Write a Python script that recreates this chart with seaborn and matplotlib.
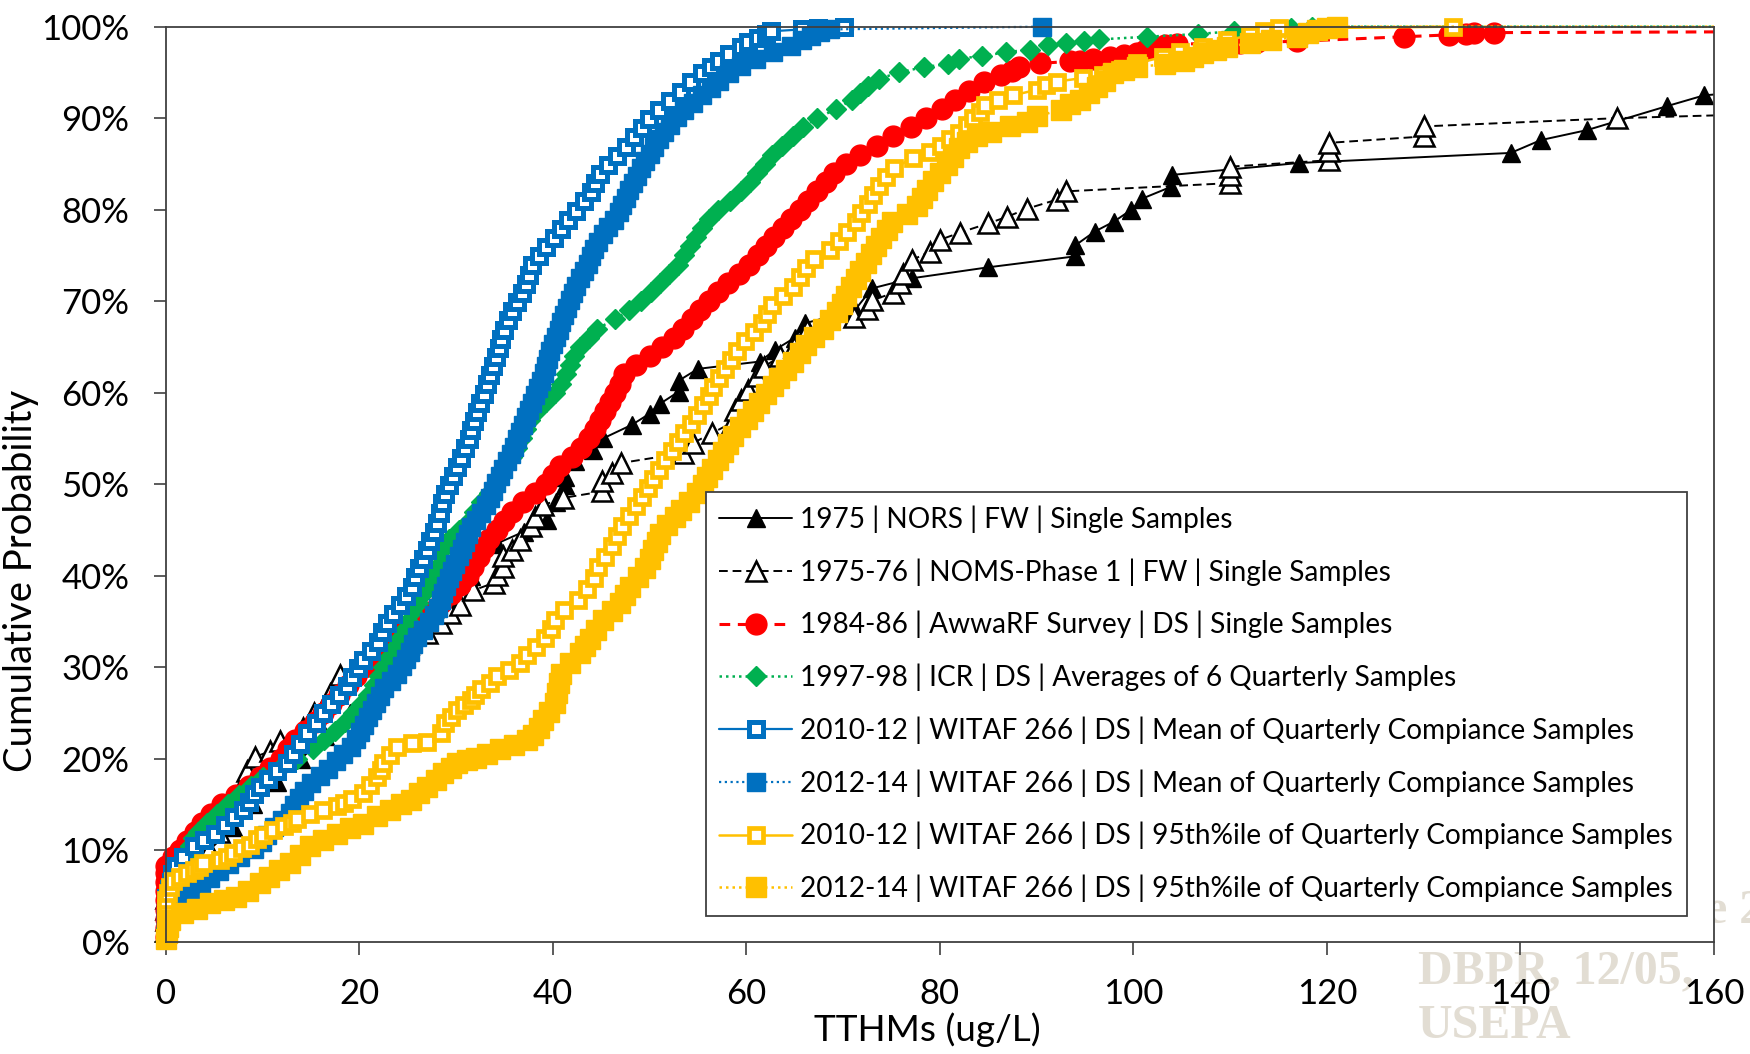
import matplotlib
matplotlib.use("Agg")
import matplotlib.pyplot as plt
import numpy as np
import pandas as pd
import seaborn as sns
from matplotlib.transforms import Bbox, TransformedBbox
from matplotlib.ticker import FuncFormatter

# Cumulative distributions of TTHM concentrations: (TTHM ug/L, cumulative %)
nors_1975 = [(0, 1.2), (0, 2.5), (0, 3.7), (0, 5.0), (2.5, 7.5), (4.5, 10.0), (7.0, 12.5), (9.0, 15.0),
             (11.5, 17.5), (14.0, 20.0), (16.5, 22.5), (19.0, 25.0), (21.5, 27.5), (23.5, 30.0),
             (25.5, 32.5), (27.5, 35.0), (29.5, 37.5), (31.5, 40.0), (34.2, 43.5), (37.0, 44.8),
             (39.4, 46.1), (40.3, 48.0), (41.3, 49.9), (41.3, 50.8), (42.3, 52.5), (44.2, 53.7),
             (45.2, 55.0), (48.2, 56.5), (50.0, 57.7), (51.1, 58.8), (53.0, 60.1), (53.0, 61.3),
             (55.0, 62.6), (61.4, 63.4), (63.0, 64.7), (65.0, 66.0), (66.1, 67.6), (71.2, 69.0),
             (73.0, 71.4), (77.1, 72.5), (85.0, 73.7), (94.0, 74.9), (94.0, 76.1), (96.0, 77.6),
             (98.0, 78.7), (99.8, 80.0), (100.9, 81.2), (103.9, 82.5), (104.0, 83.8), (117.1, 85.1),
             (139.0, 86.2), (142.1, 87.6), (146.9, 88.7), (155.1, 91.3), (159.0, 92.5), (175.0, 93.8)]

noms_1975_76 = [(0, 1.2), (0, 2.4), (0, 3.6), (0, 4.8), (1.5, 6.2), (3.0, 8.0), (4.5, 10.0), (5.5, 12.0),
                (6.5, 13.8), (7.2, 15.2), (7.7, 16.6), (8.4, 18.6), (9.2, 20.2), (10.8, 20.8), (11.8, 21.9),
                (14.2, 23.3), (15.3, 25.0), (17.0, 27.1), (18.0, 29.1), (20.1, 30.2), (22.5, 31.3),
                (25.0, 32.5), (27.0, 33.7), (28.4, 34.8), (29.4, 35.9), (30.4, 36.8), (31.8, 38.4),
                (33.9, 39.2), (34.2, 40.1), (34.9, 41.0), (34.9, 42.1), (35.8, 42.8), (36.6, 43.9),
                (37.7, 45.4), (38.2, 46.4), (39.0, 47.7), (41.1, 48.5), (45.1, 49.2), (45.1, 50.3),
                (46.1, 51.2), (47.0, 52.3), (53.5, 53.4), (54.5, 54.5), (56.5, 55.6), (58.5, 56.7),
                (58.8, 58.1), (59.5, 59.2), (60.2, 60.3), (61.1, 61.8), (61.8, 62.8), (63.5, 64.0),
                (64.9, 65.0), (66.3, 66.9), (71.1, 68.3), (72.5, 69.1), (73.0, 70.1), (75.2, 70.9),
                (75.9, 72.0), (76.2, 73.0), (77.1, 74.5), (79.0, 75.4), (80.0, 76.7), (82.1, 77.5),
                (85.0, 78.5), (86.9, 79.2), (89.0, 80.1), (92.1, 81.1), (93.0, 82.0), (110.0, 82.9),
                (110.0, 83.8), (110.0, 84.7), (120.2, 85.4), (120.2, 86.4), (120.2, 87.3), (130.0, 88.0),
                (130.0, 89.1), (150.0, 90.0), (200.0, 91.5)]

awwarf_1984_86 = [(0, 0.5), (0, 1.5), (0, 2.5), (0, 3.5), (0, 4.5), (0, 5.5), (0, 6.5), (0, 7.5), (0, 8.3),
                  (0.8, 9.2), (1.5, 10), (2.2, 11), (3.0, 12), (3.8, 13), (4.7, 14), (5.8, 15), (7.3, 16),
                  (8.6, 17), (9.7, 18), (10.8, 19), (11.9, 20), (12.6, 21), (13.4, 22), (14.4, 23),
                  (15.4, 24), (16.3, 25), (17.1, 26), (17.9, 27), (18.8, 28), (19.7, 29), (20.5, 30),
                  (21.3, 31), (22.1, 32), (23.4, 33), (24.6, 34), (25.9, 35), (27.2, 36), (28.4, 37),
                  (29.5, 38), (30.4, 39), (31.2, 40), (31.8, 41), (32.4, 42), (32.9, 43), (33.4, 44),
                  (34.2, 45), (35.0, 46), (35.8, 47), (36.9, 48), (38.2, 49), (39.3, 50), (40.0, 51),
                  (40.7, 52), (42.0, 53), (42.9, 54), (43.7, 55), (44.4, 56), (44.9, 57), (45.4, 58),
                  (45.9, 59), (46.4, 60), (46.9, 61), (47.4, 62), (48.6, 63), (50.0, 64), (51.3, 65),
                  (52.5, 66), (53.5, 67), (54.4, 68), (55.2, 69), (56.1, 70), (57.1, 71), (58.1, 72),
                  (59.2, 73), (60.3, 74), (61.2, 75), (62.0, 76), (62.9, 77), (63.8, 78), (64.6, 79),
                  (65.5, 80), (66.4, 81), (67.3, 82), (68.2, 83), (69.1, 84), (70.3, 85), (71.8, 86),
                  (73.5, 87), (75.2, 88), (77.0, 89), (78.6, 90), (80.2, 91), (81.6, 92), (83.0, 93),
                  (84.6, 94), (86.3, 94.7), (87.5, 95.2), (88.2, 95.6), (90.4, 96.0), (93.5, 96.2),
                  (94.5, 96.3), (95.8, 96.5), (97.6, 96.7), (99.0, 96.9), (100.4, 97.1), (101.2, 97.4),
                  (102.3, 97.7), (103.3, 98.0), (104.5, 98.1), (111.0, 98.2), (112.8, 98.3), (116.9, 98.4),
                  (128.0, 98.9), (132.6, 99.1), (134.4, 99.15), (135.2, 99.3), (137.3, 99.35), (210.0, 99.6)]

icr_1997_98 = [(0, 0.5), (0, 1.5), (0.2, 2.5), (0.4, 3.5), (0.7, 4.5), (1.0, 5.5), (1.3, 6.5), (1.6, 7.5),
               (1.9, 8.5), (2.2, 9.5), (2.5, 10.5), (2.8, 11.3), (3.3, 12), (4.3, 13), (5.3, 14), (6.4, 15),
               (7.6, 16), (8.8, 17), (10.1, 18), (11.8, 19), (13.6, 20), (15.2, 21), (16.4, 22), (17.5, 23),
               (18.5, 24), (19.4, 25), (20.2, 26), (20.9, 27), (21.5, 28), (22.0, 29), (22.5, 30), (23.0, 31),
               (23.5, 32), (24.0, 33), (24.5, 34), (25.0, 35), (25.5, 36), (26.1, 37), (26.6, 38), (27.1, 39),
               (27.6, 40), (28.0, 41), (28.4, 42), (28.8, 43), (29.3, 44), (30.3, 45), (31.3, 46), (31.9, 47),
               (32.6, 48), (33.4, 49), (34.0, 50), (34.6, 51), (35.2, 52), (35.8, 53), (36.3, 54), (36.8, 55),
               (37.2, 56), (37.6, 57), (38.4, 58), (39.3, 59), (40.2, 60), (40.9, 61), (41.4, 62), (41.8, 63),
               (42.2, 64), (42.8, 65), (43.7, 66), (44.6, 67), (46.4, 68), (47.9, 69), (49.1, 70), (50.2, 71),
               (51.1, 72), (52.0, 73), (52.9, 74), (53.6, 75), (54.2, 76), (54.8, 77), (55.4, 78), (56.1, 79),
               (57.1, 80), (58.3, 81), (59.5, 82), (60.4, 83), (61.1, 84), (61.9, 85), (62.7, 86), (63.7, 87),
               (64.8, 88), (65.9, 89), (67.3, 90), (69.3, 91), (70.9, 92), (71.8, 92.7), (72.6, 93.5),
               (73.7, 94.3), (75.8, 95.0), (78.4, 95.6), (80.8, 95.9), (82.0, 96.5), (84.4, 96.8),
               (86.8, 97.2), (89.3, 97.5), (91.2, 98.0), (93.0, 98.2), (94.9, 98.4), (96.4, 98.6),
               (101.4, 98.9), (106.7, 99.2), (110.4, 99.5), (116.3, 99.8), (118.5, 100), (240.0, 100)]

witaf_mean_2010_12 = [(0, 0.8), (0, 1.8), (0, 2.8), (0, 3.8), (0, 4.8), (0.3, 5.7), (0.5, 6.5), (0.7, 7.4),
                      (1.1, 8.3), (1.8, 9.3), (2.9, 10.4), (4.0, 11.1), (5.1, 11.8), (6.1, 12.7), (7.1, 13.6),
                      (8.0, 14.4), (8.6, 15.3), (9.1, 16.1), (9.7, 16.9), (10.6, 17.8), (11.5, 18.6),
                      (12.5, 19.5), (13.2, 20.5), (13.9, 21.6), (14.6, 22.8), (15.5, 23.9), (16.3, 25.0),
                      (17.1, 26.0), (17.9, 27.0), (18.7, 27.9), (19.3, 28.9), (19.9, 29.9), (20.4, 30.8),
                      (21.2, 31.8), (21.9, 32.8), (22.4, 33.8), (22.9, 34.8), (23.5, 35.8), (24.2, 36.8),
                      (24.8, 37.8), (25.4, 38.8), (25.8, 39.8), (26.2, 40.8), (26.6, 41.8), (27.0, 42.8),
                      (27.3, 43.8), (27.7, 44.8), (28.0, 45.8), (28.3, 46.8), (28.5, 47.9), (28.9, 48.9),
                      (29.3, 49.9), (29.7, 50.9), (30.1, 51.9), (30.5, 52.9), (30.9, 53.9), (31.3, 54.9),
                      (31.6, 55.9), (31.9, 56.9), (32.2, 57.9), (32.5, 58.9), (32.9, 59.9), (33.2, 60.9),
                      (33.5, 61.9), (33.8, 62.9), (34.1, 63.9), (34.4, 64.9), (34.7, 65.9), (35.0, 66.9),
                      (35.4, 67.9), (35.8, 68.9), (36.3, 69.9), (36.8, 70.9), (37.2, 71.9), (37.5, 72.9),
                      (37.9, 73.9), (38.6, 74.9), (39.3, 75.9), (40.1, 76.9), (40.9, 77.9), (41.6, 78.9),
                      (42.4, 79.9), (43.2, 80.9), (43.9, 81.9), (44.4, 82.9), (44.9, 83.9), (45.7, 84.9),
                      (46.6, 85.9), (47.6, 86.9), (48.4, 87.9), (49.2, 88.9), (49.9, 89.9), (51.0, 90.9),
                      (52.1, 91.9), (53.2, 92.9), (54.3, 93.9), (55.4, 94.9), (56.3, 95.6), (57.2, 96.3),
                      (58.2, 97.0), (59.4, 97.8), (60.2, 98.3), (61.2, 98.8), (62.0, 99.2), (62.6, 99.5),
                      (65.8, 99.7), (67.4, 99.85), (70.1, 100)]

witaf_mean_2012_14 = [(0, 0.5), (0, 1.2), (0, 1.9), (0, 2.6), (0, 3.3), (1.1, 3.8), (1.6, 4.6), (2.6, 5.4),
                      (3.6, 6.2), (4.6, 7.0), (5.5, 7.7), (6.5, 8.5), (7.7, 9.3), (9.1, 10.1), (10.0, 10.9),
                      (10.5, 11.7), (11.2, 12.5), (12.0, 13.3), (12.8, 14.1), (13.3, 14.9), (13.8, 15.7),
                      (14.3, 16.5), (15.0, 17.3), (15.9, 18.1), (16.8, 18.9), (17.6, 19.7), (18.3, 20.5),
                      (19.1, 21.3), (19.7, 22.1), (20.1, 22.9), (20.5, 23.7), (20.9, 24.5), (21.3, 25.3),
                      (21.7, 26.1), (22.1, 26.9), (22.6, 27.7), (23.3, 28.5), (23.9, 29.3), (24.4, 30.1),
                      (24.8, 30.9), (25.2, 31.7), (25.6, 32.5), (26.0, 33.3), (26.6, 34.1), (27.2, 34.9),
                      (27.7, 35.7), (28.1, 36.5), (28.4, 37.3), (28.7, 38.1), (29.0, 38.9), (29.3, 39.7),
                      (29.6, 40.5), (29.9, 41.3), (30.3, 42.1), (30.6, 42.9), (30.9, 43.7), (31.2, 44.5),
                      (31.6, 45.3), (32.1, 46.1), (32.6, 46.9), (33.1, 47.7), (33.5, 48.5), (33.8, 49.3),
                      (34.1, 50.1), (34.5, 50.9), (34.9, 51.7), (35.3, 52.5), (35.7, 53.3), (36.0, 54.1),
                      (36.3, 54.9), (36.6, 55.7), (36.9, 56.5), (37.2, 57.3), (37.5, 58.1), (37.9, 58.9),
                      (38.2, 59.7), (38.5, 60.5), (38.8, 61.3), (39.1, 62.1), (39.3, 62.9), (39.5, 63.7),
                      (39.7, 64.5), (40.0, 65.3), (40.3, 66.1), (40.6, 66.9), (40.9, 67.7), (41.2, 68.5),
                      (41.5, 69.3), (41.8, 70.1), (42.1, 70.9), (42.4, 71.7), (42.8, 72.5), (43.2, 73.3),
                      (43.6, 74.1), (43.9, 74.9), (44.3, 75.7), (44.7, 76.5), (45.2, 77.3), (45.7, 78.1),
                      (46.3, 78.9), (46.8, 79.7), (47.2, 80.5), (47.6, 81.3), (47.9, 82.1), (48.3, 82.9),
                      (48.7, 83.7), (49.1, 84.5), (49.5, 85.3), (50.0, 86.1), (50.5, 86.9), (51.0, 87.7),
                      (51.5, 88.5), (52.1, 89.3), (52.8, 90.1), (53.6, 90.9), (54.5, 91.7), (55.4, 92.5),
                      (56.3, 93.3), (57.2, 94.1), (58.2, 94.9), (59.4, 95.7), (61.0, 96.5), (62.8, 97.2),
                      (64.6, 97.9), (65.8, 98.5), (66.7, 99.0), (67.6, 99.4), (68.6, 99.7), (90.6, 100)]

witaf_p95_2010_12 = [(0, 0.5), (0, 1.3), (0, 2.1), (0, 2.9), (0, 3.7), (0, 4.5), (0.2, 5.3), (0.4, 6.0),
                     (0.8, 6.6), (1.5, 7.1), (2.2, 7.5), (2.9, 7.8), (3.4, 8.2), (3.9, 8.6), (5.6, 8.9),
                     (6.3, 9.3), (7.0, 9.7), (7.9, 10.2), (8.7, 10.6), (9.4, 11.2), (10.1, 11.7), (11.1, 12.2),
                     (12.2, 12.6), (13.0, 13.0), (13.6, 13.4), (14.9, 14.0), (16.3, 14.4), (17.7, 14.8),
                     (18.4, 15.2), (19.2, 15.6), (20.4, 16.2), (21.1, 17.1), (21.8, 18.0), (22.2, 18.8),
                     (22.5, 19.5), (23.2, 20.4), (23.9, 21.3), (25.5, 21.7), (27.0, 21.8), (28.4, 22.8),
                     (28.9, 23.9), (29.5, 24.6), (30.1, 25.3), (30.8, 25.9), (31.5, 26.4), (32.0, 27.0),
                     (32.6, 27.6), (33.5, 28.3), (34.2, 29.0), (35.5, 29.7), (36.6, 30.5), (37.3, 31.3),
                     (38.3, 32.2), (39.2, 33.2), (39.8, 34.2), (40.2, 35.2), (41.2, 36.2), (42.6, 37.3),
                     (43.5, 38.5), (44.3, 39.7), (44.7, 40.9), (45.4, 42.0), (46.1, 43.2), (46.6, 44.3),
                     (47.2, 45.4), (47.9, 46.5), (48.6, 47.6), (49.2, 48.6), (49.8, 49.6), (50.4, 50.6),
                     (51.0, 51.6), (51.6, 52.6), (52.3, 53.6), (52.9, 54.6), (53.6, 55.6), (54.3, 56.6),
                     (54.9, 57.6), (55.5, 58.6), (56.1, 59.6), (56.6, 60.6), (57.2, 61.6), (57.8, 62.6),
                     (58.4, 63.6), (59.0, 64.6), (59.9, 65.6), (60.8, 66.6), (61.6, 67.6), (62.1, 68.6),
                     (62.7, 69.6), (63.8, 70.6), (64.8, 71.6), (65.6, 72.6), (66.2, 73.6), (67.0, 74.6),
                     (68.6, 75.6), (69.6, 76.6), (70.4, 77.6), (71.3, 78.6), (71.9, 79.6), (72.6, 80.6),
                     (73.1, 81.6), (73.7, 82.6), (74.4, 83.6), (75.3, 84.6), (77.2, 85.6), (79.0, 86.3),
                     (80.1, 87.0), (81.1, 87.7), (82.0, 88.4), (82.8, 89.2), (83.4, 90.0), (84.1, 90.7),
                     (84.7, 91.4), (86.0, 92.0), (87.6, 92.5), (90.0, 93.1), (91.0, 93.6), (92.1, 94.0),
                     (94.8, 94.4), (96.9, 94.7), (98.6, 95.3), (100.4, 96.0), (103.1, 96.7), (104.8, 97.2),
                     (107.2, 97.8), (109.7, 98.5), (112.1, 99.1), (113.5, 99.5), (115.0, 99.8), (133.0, 100)]

witaf_p95_2012_14 = [(0, 0.3), (0.1, 0.9), (0.2, 1.6), (0.4, 2.4), (1.8, 3.1), (3.2, 3.6), (4.6, 4.2),
                     (6.0, 4.6), (7.3, 4.9), (8.5, 5.5), (9.7, 6.4), (10.7, 7.1), (11.7, 7.8), (12.8, 8.6),
                     (13.9, 9.5), (14.9, 10.4), (16.3, 11.1), (17.7, 11.8), (19.0, 12.4), (20.4, 12.9),
                     (21.8, 13.7), (23.2, 14.4), (24.3, 15.0), (25.3, 15.5), (26.2, 16.2), (27.0, 16.9),
                     (27.9, 17.7), (28.7, 18.4), (29.5, 19.0), (30.1, 19.5), (31.1, 19.9), (32.1, 20.1),
                     (33.2, 20.5), (34.5, 21.0), (36.0, 21.5), (37.3, 22.0), (38.0, 22.6), (38.6, 23.4),
                     (39.0, 24.2), (39.6, 25.1), (40.2, 26.1), (40.4, 27.2), (40.6, 28.3), (40.8, 29.3),
                     (41.8, 30.4), (42.8, 31.5), (43.3, 32.3), (43.8, 33.1), (44.5, 34.1), (45.2, 35.2),
                     (46.1, 36.1), (46.9, 37.0), (47.5, 37.9), (48.0, 38.8), (48.8, 39.8), (49.5, 40.8),
                     (50.0, 41.8), (50.4, 42.8), (50.8, 43.7), (51.1, 44.6), (51.8, 45.5), (52.6, 46.4),
                     (53.2, 47.2), (54.1, 48.1), (54.9, 49.0), (55.5, 49.9), (55.9, 50.8), (56.5, 51.7),
                     (57.1, 52.6), (57.6, 53.5), (58.1, 54.4), (58.6, 55.3), (59.3, 56.2), (60.1, 57.1),
                     (60.7, 58.0), (61.3, 58.9), (62.0, 59.8), (62.8, 60.7), (63.4, 61.6), (64.1, 62.5),
                     (64.8, 63.4), (65.5, 64.3), (66.2, 65.2), (67.0, 66.1), (67.9, 67.0), (68.7, 67.9),
                     (69.4, 68.8), (69.9, 69.7), (70.3, 70.6), (70.8, 71.5), (71.3, 72.4), (71.8, 73.3),
                     (72.4, 74.2), (72.9, 75.1), (73.4, 76.0), (73.9, 76.9), (74.5, 77.8), (75.1, 78.7),
                     (76.6, 79.5), (77.6, 80.4), (78.2, 81.3), (78.7, 82.2), (79.3, 83.1), (80.0, 84.0),
                     (80.7, 84.9), (81.4, 85.8), (82.0, 86.7), (82.8, 87.4), (83.8, 88.0), (85.3, 88.5),
                     (87.3, 89.1), (89.0, 89.6), (90.0, 90.2), (92.5, 90.9), (93.4, 91.5), (94.5, 92.0),
                     (95.4, 92.7), (96.2, 93.4), (97.1, 94.1), (97.9, 94.9), (99.0, 95.3), (100.4, 95.6),
                     (103.3, 95.9), (105.2, 96.3), (106.2, 96.7), (107.2, 97.1), (108.5, 97.5), (109.7, 97.8),
                     (112.1, 98.2), (114.2, 98.5), (116.9, 98.9), (118.0, 99.3), (119.0, 99.6), (120.0, 99.8),
                     (121.0, 100), (240.0, 100)]

x_ticks = [0, 20, 40, 60, 80, 100, 120, 140, 160]
y_ticks = [0, 10, 20, 30, 40, 50, 60, 70, 80, 90, 100]

BLACK, RED, GREEN, BLUE, GOLD = "#000000", "#FF0000", "#00B050", "#0070C0", "#FFC000"

series = [
    ("1975 | NORS | FW | Single Samples", nors_1975,
     dict(color=BLACK, linestyle="-", linewidth=1.4, marker="^", markersize=12.5,
          markerfacecolor=BLACK, markeredgecolor=BLACK, markeredgewidth=1.0)),
    ("1975-76 | NOMS-Phase 1 | FW | Single Samples", noms_1975_76,
     dict(color=BLACK, linestyle=(0, (4.5, 2.5)), linewidth=1.4, marker="^", markersize=14,
          markerfacecolor="white", markeredgecolor=BLACK, markeredgewidth=1.8)),
    ("1984-86 | AwwaRF Survey | DS | Single Samples", awwarf_1984_86,
     dict(color=RED, linestyle=(0, (3.5, 2.5)), linewidth=2.2, marker="o", markersize=15,
          markerfacecolor=RED, markeredgecolor=RED, markeredgewidth=1.0)),
    ("1997-98 | ICR | DS | Averages of 6 Quarterly Samples", icr_1997_98,
     dict(color=GREEN, linestyle=(0, (1, 1.6)), linewidth=1.8, marker="D", markersize=10.5,
          markerfacecolor=GREEN, markeredgecolor=GREEN, markeredgewidth=1.0)),
    ("2010-12 | WITAF 266 | DS | Mean of Quarterly Compiance Samples", witaf_mean_2010_12,
     dict(color=BLUE, linestyle="-", linewidth=1.6, marker="s", markersize=10.5,
          markerfacecolor="white", markeredgecolor=BLUE, markeredgewidth=3.6)),
    ("2012-14 | WITAF 266 | DS | Mean of Quarterly Compiance Samples", witaf_mean_2012_14,
     dict(color=BLUE, linestyle=(0, (1, 1.6)), linewidth=1.6, marker="s", markersize=13.5,
          markerfacecolor=BLUE, markeredgecolor=BLUE, markeredgewidth=1.0)),
    ("2010-12 | WITAF 266 | DS | 95th%ile of Quarterly Compiance Samples", witaf_p95_2010_12,
     dict(color=GOLD, linestyle="-", linewidth=1.8, marker="s", markersize=10.5,
          markerfacecolor="white", markeredgecolor=GOLD, markeredgewidth=3.4)),
    ("2012-14 | WITAF 266 | DS | 95th%ile of Quarterly Compiance Samples", witaf_p95_2012_14,
     dict(color=GOLD, linestyle=(0, (1, 1.6)), linewidth=1.8, marker="s", markersize=14,
          markerfacecolor=GOLD, markeredgecolor=GOLD, markeredgewidth=1.0)),
]

sns.set_theme(style="white")
plt.rcParams["font.family"] = ["Lato", "DejaVu Sans"]

fig = plt.figure(figsize=(17.5, 10.54), dpi=100)
fig.patch.set_facecolor("white")
ax = fig.add_axes([0.0947, 0.1066, 0.8847, 0.8681])
ax.set_facecolor("white")

for label, pts, style in series:
    df = pd.DataFrame(pts, columns=["tthm", "pct"])
    sns.lineplot(data=df, x="tthm", y="pct", ax=ax, estimator=None, sort=False,
                 errorbar=None, label=label, **style)

ax.set_xlim(0, 160)
ax.set_ylim(0, 100)
ax.set_xticks(x_ticks)
ax.set_yticks(y_ticks)
ax.yaxis.set_major_formatter(FuncFormatter(lambda v, _: f"{v:.0f}%"))
ax.xaxis.set_major_formatter(FuncFormatter(lambda v, _: f"{v:.0f}"))

# markers at 0 and at 100% sit on the frame, so let them spill past it on those sides
clip = TransformedBbox(Bbox([[-0.02, -0.02], [1.0, 1.02]]), ax.transAxes)
for line in ax.lines:
    line.set_clip_path(None)
    line.set_clip_box(clip)

for side in ["left", "bottom", "top", "right"]:
    ax.spines[side].set_visible(True)
    ax.spines[side].set_color("#404040")
    ax.spines[side].set_linewidth(1.3)

ax.tick_params(axis="both", which="major", direction="out", length=9, width=1.2,
               color="#404040", labelsize=25, labelcolor="black", bottom=True, left=True)
ax.tick_params(axis="y", pad=17)
ax.tick_params(axis="x", pad=17)
ax.set_ylabel("Cumulative Probability", fontsize=27.5, color="black")
ax.set_xlabel("TTHMs (ug/L)", fontsize=26.6, color="black")
ax.yaxis.set_label_coords(-0.082, 0.394)
ax.xaxis.set_label_coords(0.4918, -0.077)

handles, labels = ax.get_legend_handles_labels()
leg = ax.legend(handles, labels, loc="upper left", bbox_to_anchor=(705.5 / 1750, 1 - 492 / 1054),
                bbox_transform=fig.transFigure, frameon=True, fancybox=False, framealpha=1,
                edgecolor="#404040", facecolor="white", fontsize=20.2, handlelength=2.62,
                handletextpad=0.28, labelspacing=0.9, borderpad=0.48, borderaxespad=0,
                numpoints=1)
leg.get_frame().set_linewidth(1.3)
for t in leg.get_texts():
    t.set_color("black")

# faint slide watermark sitting behind the plot area; only its edges show outside the frame
wm = dict(color="#E2DDD3", fontsize=34.5, fontweight="bold", family=["Liberation Serif", "DejaVu Serif"],
          zorder=-1)
fig.text(1706 / 1750, 1 - 923 / 1054, "e 2", ha="left", va="baseline", **wm)
fig.text(1418 / 1750, 1 - 983 / 1054, "DBPR, 12/05,", ha="left", va="baseline", **wm)
fig.text(1418 / 1750, 1 - 1038 / 1054, "USEPA", ha="left", va="baseline", **wm)

fig.savefig("out.png", dpi=100, facecolor="white")
